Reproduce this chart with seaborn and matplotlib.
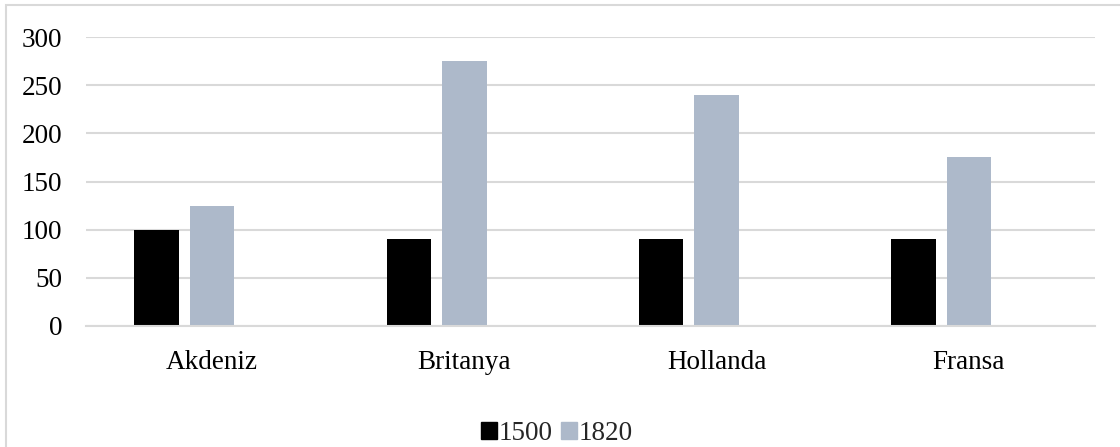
import pandas as pd
import numpy as np
import matplotlib.pyplot as plt
import seaborn as sns
from matplotlib.patches import Rectangle

# data
regions = ['Akdeniz', 'Britanya', 'Hollanda', 'Fransa']
values_1500 = [100, 90, 90, 90]
values_1820 = [125, 275, 240, 175]
years = ['1500', '1820', ' ']  # third (empty) series keeps the Excel-style offset

sns.set_theme(style='white')
plt.rcParams['font.family'] = ['Liberation Serif', 'DejaVu Serif']

df = pd.DataFrame({
    'region': regions * 3,
    'year': ['1500'] * 4 + ['1820'] * 4 + [' '] * 4,
    'value': values_1500 + values_1820 + [np.nan] * 4,
})

palette = {'1500': '#000000', '1820': '#ADB9CA', ' ': '#FFFFFF'}

fig = plt.figure(figsize=(11.2, 4.47), dpi=100)
ax = fig.add_axes([0.0768, 0.2707, 0.9009, 0.6465])

sns.barplot(data=df, x='region', y='value', hue='year', hue_order=years,
            order=regions, palette=palette, width=0.66, gap=0.2,
            saturation=1, linewidth=0, legend=False, ax=ax)

ax.set_ylim(0, 300)
ax.set_yticks(range(0, 301, 50))
ax.set_xlim(-0.5, len(regions) - 0.5)
ax.yaxis.grid(True, color='#D9D9D9', linewidth=1.5)
ax.set_axisbelow(True)
for side in ['top', 'right', 'left']:
    ax.spines[side].set_visible(False)
ax.spines['bottom'].set_color('#D9D9D9')
ax.spines['bottom'].set_linewidth(1.5)
ax.set_xlabel('')
ax.set_ylabel('')
ax.tick_params(axis='both', length=0, labelsize=19.5, colors='#000000')
ax.tick_params(axis='x', pad=17)
ax.tick_params(axis='y', pad=17)

handles = [Rectangle((0, 0), 1, 1, color=palette[y]) for y in years[:2]]
fig.legend(handles, years[:2], loc='center', bbox_to_anchor=(0.497, 0.03),
           ncol=2, frameon=False, fontsize=19.5, handlelength=0.6,
           handleheight=0.6, handletextpad=0.05, columnspacing=0.3,
           borderpad=0.2)

# chart frame
fig.patches.append(Rectangle((6 / 1120, -0.05), 1.1, 1 - 5 / 447 + 0.05,
                             transform=fig.transFigure, fill=False,
                             edgecolor='#D9D9D9', linewidth=1.5))

fig.savefig('out.png', dpi=100)
plt.close(fig)
